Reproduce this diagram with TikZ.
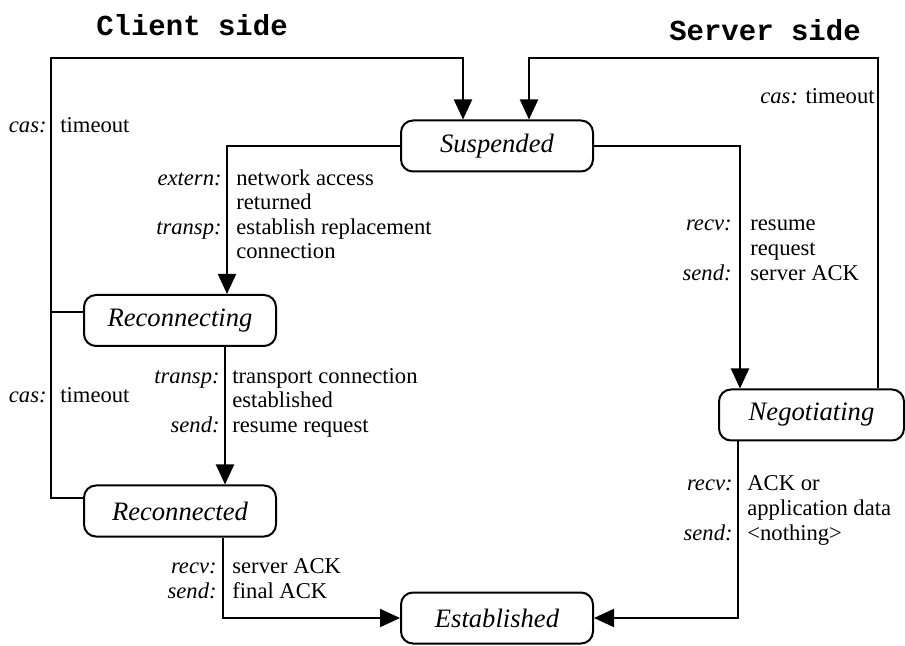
\documentclass[tikz,border=0pt]{standalone}
\usepackage{fontspec}
\setmainfont{Liberation Serif}
\setmonofont{Liberation Mono}
\usetikzlibrary{arrows.meta}
\tikzset{
  stbox/.style={draw=black,line width=1pt,rounded corners=6pt,minimum width=96pt,minimum height=25.5pt,inner sep=0pt,font=\fontsize{13.3}{15}\selectfont\itshape}, % state
  flow/.style={line width=1pt,-{Triangle[length=10pt,width=9pt]}},
  wire/.style={line width=1pt},
  evt/.style={anchor=base east,inner sep=0pt,font=\fontsize{11.3}{13}\selectfont\itshape},
  act/.style={anchor=base west,inner sep=0pt,font=\fontsize{11.3}{13}\selectfont},
  side/.style={inner sep=0pt,font=\fontsize{14.5}{17}\selectfont\ttfamily\bfseries},
}

\begin{document}
\begin{tikzpicture}[x=0.5pt,y=-0.5pt]
  \useasboundingbox (0,0) rectangle (905,646);
  % headings
  \node[side] (client) at (192,25) {Client side};
  \node[side] (server) at (765,30) {Server side};
  % states
  \node[stbox] (susp) at (497,146) {Suspended};
  \node[stbox] (recing) at (180,320.5) {Reconnecting};
  \node[stbox] (reced) at (180,511) {Reconnected};
  \node[stbox,minimum width=92.5pt] (neg) at (811.5,415) {Negotiating};
  \node[stbox] (est) at (497,618) {Established};
  % client side
  \draw[flow] (susp.west) -| (227,0 |- recing.north);
  \draw[flow] (225,0 |- recing.south) -- (225,0 |- reced.north);
  \draw[flow] (223,0 |- reced.south) |- (est.west);
  \draw[wire] (reced.west |- 0,498) -| (51,312);
  \draw[flow] (recing.west |- 0,312) -| (51,58) -| (463,0 |- susp.north);
  % server side
  \draw[flow] (susp.east) -| (740,0 |- neg.north);
  \draw[flow] (738,0 |- neg.south) |- (est.east);
  \draw[flow] (878,0 |- neg.north) |- (529,58) -- (529,0 |- susp.north);
  % timeouts
  \node[evt] (cas1) at (47,133) {cas:};
  \node[act] (to1) at (60,133) {timeout};
  \node[evt] (cas2) at (47,403) {cas:};
  \node[act] (to2) at (60,403) {timeout};
  \node[anchor=base east,inner sep=0pt,font=\fontsize{11.3}{13}\selectfont] (cas3) at (875,104) {\textit{cas:} timeout};
  % suspended -> reconnecting
  \node[evt] (sr-e1) at (222,186) {extern:};
  \node[act] (sr-a1) at (236,186) {network access};
  \node[act] (sr-a2) at (236,210) {returned};
  \node[evt] (sr-e2) at (222,235) {transp:};
  \node[act] (sr-a3) at (236,235) {establish replacement};
  \node[act] (sr-a4) at (236,259) {connection};
  % reconnecting -> reconnected
  \node[evt] (rr-e1) at (220,384) {transp:};
  \node[act] (rr-a1) at (232,384) {transport connection};
  \node[act] (rr-a2) at (232,408) {established};
  \node[evt] (rr-e2) at (220,433) {send:};
  \node[act] (rr-a3) at (232,433) {resume request};
  % reconnected -> established
  \node[evt] (re-e1) at (217,573) {recv:};
  \node[act] (re-a1) at (232,573) {server ACK};
  \node[evt] (re-e2) at (217,598) {send:};
  \node[act] (re-a2) at (232,598) {final ACK};
  % suspended -> negotiating
  \node[evt] (sn-e1) at (732,231) {recv:};
  \node[act] (sn-a1) at (750,231) {resume};
  \node[act] (sn-a2) at (750,256) {request};
  \node[evt] (sn-e2) at (732,281) {send:};
  \node[act] (sn-a3) at (750,281) {server ACK};
  % negotiating -> established
  \node[evt] (ne-e1) at (733,491) {recv:};
  \node[act] (ne-a1) at (747,491) {ACK or};
  \node[act] (ne-a2) at (747,515.5) {application data};
  \node[evt] (ne-e2) at (733,540) {send:};
  \node[act] (ne-a3) at (747,540) {<nothing>};
\end{tikzpicture}
\end{document}
